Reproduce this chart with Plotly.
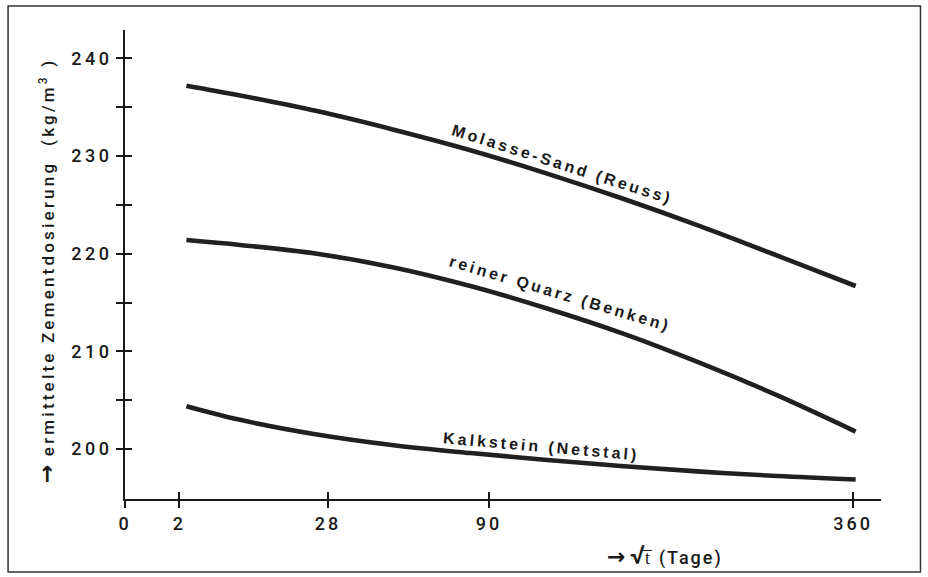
import numpy as np
import plotly.graph_objects as go

# ---- data (x in sqrt(days), y in kg/m3) ----
sqrt_t = [1.6, 3, 5, 7, 9, 11, 13, 15, 17, 19.04]
molasse = [237.2, 236.2, 234.6, 232.7, 230.6, 228.2, 225.6, 222.8, 219.8, 216.7]
quarz = [221.4, 220.9, 220.0, 218.6, 216.7, 214.4, 211.8, 208.8, 205.5, 201.8]
kalkstein = [204.4, 203.0, 201.5, 200.4, 199.6, 198.9, 198.25, 197.7, 197.25, 196.9]

x_tick_days = [0, 2, 28, 90, 360]
x_tick_labels = ["0", "2", "28", "90", "360"]
y_tick_vals = [200, 210, 220, 230, 240]
y_minor_vals = [205, 215, 225, 235]

series_names = ["Molasse-Sand (Reuss)", "reiner Quarz (Benken)", "Kalkstein (Netstal)"]

INK = "#1a1a1a"
FONT = "Liberation Sans"
TFONT = "Roboto"

def spaced(s, px):
    return f'<span style="letter-spacing:{px}px">{s}</span>'

def arrow(size):
    return (f'<span style="font-family:\'DejaVu Sans\';font-size:{size}px;'
            f'font-weight:bold;fill:{INK};color:{INK}">→</span>')

fig = go.Figure()
for name, vals in zip(series_names, [molasse, quarz, kalkstein]):
    fig.add_trace(go.Scatter(x=sqrt_t, y=vals, mode="lines", name=name,
                             line=dict(color="#202020", width=4.6, shape="spline"),
                             hoverinfo="skip"))

xr = [0, 19.7]
yr = [194.9, 242.9]
xt = list(np.sqrt(x_tick_days))

axis_common = dict(showgrid=False, zeroline=False, linecolor=INK, linewidth=1.8,
                   tickcolor=INK, tickwidth=1.6, ticklen=7)

fig.update_layout(
    width=928, height=577,
    margin=dict(l=125, r=46.5, t=30, b=78),
    paper_bgcolor="white", plot_bgcolor="white",
    showlegend=False,
    font=dict(family=FONT, color=INK, size=17),
    xaxis=dict(range=xr, showline=True, ticks="outside", tickvals=xt,
               ticktext=[spaced(t, 3) for t in x_tick_labels],
               tickfont=dict(size=18, family=TFONT, color=INK, weight=500), **axis_common),
    yaxis=dict(range=yr, showline=True, ticks="outside", tickvals=y_tick_vals,
               ticktext=[spaced(str(v), 3.5) for v in y_tick_vals],
               tickfont=dict(size=18, family=TFONT, color=INK, weight=500),
               minor=dict(tickvals=y_minor_vals, ticks="outside", ticklen=7,
                          tickwidth=1.6, tickcolor=INK),
               **axis_common),
    xaxis2=dict(range=xr, overlaying="x", anchor="y", side="bottom", showline=False,
                ticks="inside", tickvals=xt, showticklabels=False, **axis_common),
    yaxis2=dict(range=yr, overlaying="y", anchor="x", side="left", showline=False,
                ticks="inside", tickvals=y_tick_vals, showticklabels=False,
                minor=dict(tickvals=y_minor_vals, ticks="inside", ticklen=7,
                           tickwidth=1.6, tickcolor=INK),
                **axis_common),
)

# invisible trace to make the overlay axes render
fig.add_trace(go.Scatter(x=[None], y=[None], xaxis="x2", yaxis="y2",
                         showlegend=False, hoverinfo="skip"))

# curve labels
label_pos = [(11.41, 229.1, 17.6), (11.33, 215.9, 16.6), (10.86, 200.3, 5)]
for name, (lx, ly, ang) in zip(series_names, label_pos):
    fig.add_annotation(x=lx, y=ly, xref="x", yref="y", text=spaced(name, 3),
                       showarrow=False, textangle=ang,
                       xanchor="center", yanchor="middle",
                       font=dict(size=16, family=FONT, color=INK, weight="bold"))

# axis titles
fig.add_annotation(x=(46 - 125) / 756.5, y=(499 - 271) / 469, xref="paper", yref="paper",
                   xanchor="center", yanchor="middle",
                   text=arrow(22) + '\u00a0\u00a0'
                        + spaced('ermittelte Zementdosierung  (kg/m<sup>3</sup> )', 3.2),
                   textangle=-90, showarrow=False,
                   font=dict(size=17, family=TFONT, color=INK, weight=500))
fig.add_annotation(x=(665 - 125) / 756.5, y=(499 - 555) / 469, xref="paper", yref="paper",
                   xanchor="center", yanchor="middle",
                   text=arrow(22) + '\u00a0<span style="font-size:26px">√</span>t\u0305\u00a0\u00a0' + spaced("(Tage)", 2),
                   showarrow=False,
                   font=dict(size=18, family=TFONT, color=INK, weight=500))

# frame around the figure
fig.add_shape(type="rect", xref="paper", yref="paper",
              x0=(8 - 125) / 756.5, x1=(921 - 125) / 756.5,
              y0=(499 - 572) / 469, y1=(499 - 6) / 469,
              line=dict(color="#333", width=1.5))

fig.write_html("out.html", config={"displayModeBar": False},
               post_script="document.body.style.margin='0';document.body.style.overflow='hidden';")
